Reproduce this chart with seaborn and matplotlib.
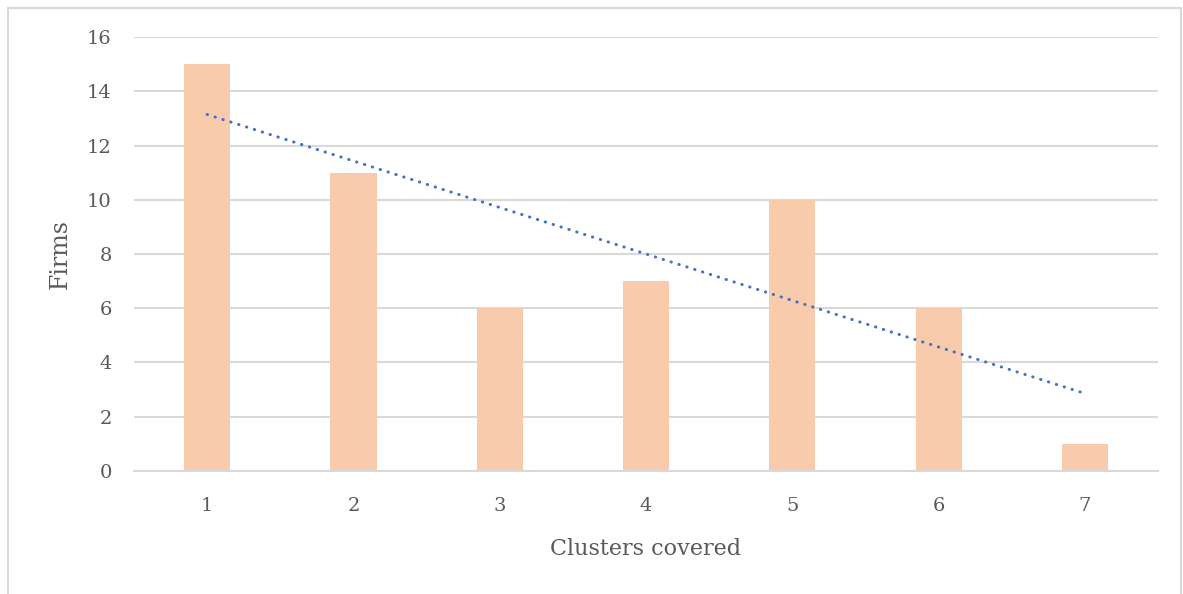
import numpy as np
import pandas as pd
import seaborn as sns
import matplotlib
matplotlib.use("Agg")
import matplotlib.pyplot as plt
from matplotlib.patches import Rectangle

# Number of firms by how many clusters they cover
clusters = ["1", "2", "3", "4", "5", "6", "7"]
firms = [15, 11, 6, 7, 10, 6, 1]
y_ticks = [0, 2, 4, 6, 8, 10, 12, 14, 16]

sns.set_theme(style="white")
plt.rcParams["font.family"] = ["DejaVu Serif"]

text_color = "#595959"
grid_color = "#D9D9D9"
bar_color = "#F8CBAD"
trend_color = "#4472C4"

df = pd.DataFrame({"clusters": clusters, "firms": firms})

fig = plt.figure(figsize=(11.83, 5.94), dpi=100)
ax = fig.add_axes([0.1133, 0.2071, 0.8656, 0.7306])

sns.barplot(data=df, x="clusters", y="firms", color=bar_color,
            saturation=1, width=0.315, linewidth=0, ax=ax, zorder=2)

# Linear trendline over category positions
pos = np.arange(len(firms))
slope, intercept = np.polyfit(pos + 1, firms, 1)
ax.plot(pos, slope * (pos + 1) + intercept, color=trend_color, lw=2.2,
        linestyle=(0, (0.1, 2.6)), dash_capstyle="round", zorder=3)

ax.set_xlim(-0.5, len(firms) - 0.5)
ax.set_ylim(0, 16)
ax.set_yticks(y_ticks)
ax.yaxis.grid(True, color=grid_color, lw=1.5, zorder=0)
ax.set_axisbelow(True)
for side in ["top", "right", "left"]:
    ax.spines[side].set_visible(False)
ax.spines["bottom"].set_color(grid_color)
ax.spines["bottom"].set_linewidth(1.5)
ax.tick_params(axis="both", length=0, labelsize=14, colors=text_color)
ax.tick_params(axis="x", pad=19)
ax.tick_params(axis="y", pad=16)

ax.set_xlabel("Clusters covered", fontsize=16, color=text_color, labelpad=16)
ax.set_ylabel("Firms", fontsize=17, color=text_color, labelpad=11)

# Light frame around the chart
fig.patches.append(Rectangle((8 / 1183, -0.01), 1173 / 1183, 1 - 8 / 594 + 0.01,
                             transform=fig.transFigure, fill=False,
                             edgecolor=grid_color, lw=1.5))

fig.savefig("out.png", dpi=100)
